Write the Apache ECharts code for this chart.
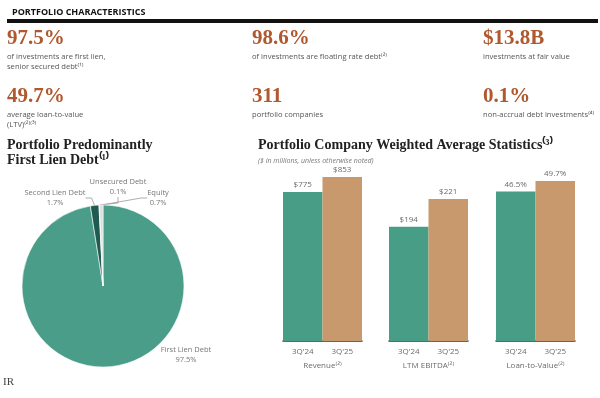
<!DOCTYPE html>
<html>
<head>
<meta charset="utf-8">
<script src="https://cdn.jsdelivr.net/npm/echarts@6/dist/echarts.min.js"></script>
<style>
  html, body { margin: 0; padding: 0; background: #fff; }
  #chart { width: 600px; height: 398px; }
</style>
</head>
<body>
<div id="chart"></div>
<script>
  // headline stats (value + note), row by row
  var HEADLINE_VALUES = ['97.5%', '98.6%', '$13.8B', '49.7%', '311', '0.1%'];
  var HEADLINE_NOTES = [
    'of investments are first lien,\nsenior secured debt⁽¹⁾',
    'of investments are floating rate debt⁽²⁾',
    'investments at fair value',
    'average loan-to-value\n(LTV)⁽²⁾⁽³⁾',
    'portfolio companies',
    'non-accrual debt investments⁽⁴⁾'
  ];

  // pie: lien breakdown
  var PIE_NAMES = ['First Lien Debt', 'Second Lien Debt', 'Unsecured Debt', 'Equity'];
  var PIE_VALUES = [97.5, 1.7, 0.1, 0.7];

  // bars: weighted average stats
  var PERIODS = ["3Q'24", "3Q'25"];
  var REVENUE = [775, 853];
  var EBITDA = [194, 221];
  var LTV = [46.5, 49.7];
  var METRIC_NAMES = ['Revenue⁽²⁾', 'LTM EBITDA⁽²⁾', 'Loan-to-Value⁽²⁾'];

  var RUST = '#b0582e'
    , TEAL = '#479d86'
    , TAN = '#c8996d'
    , GREY = '#6b6b6b';

  var chart = echarts.init(document.getElementById('chart'));

  var colLeft = [7, 252, 483]
    , rowTop = [28, 86];

  var titles = [{
    text: 'PORTFOLIO CHARACTERISTICS',
    left: 7, top: 3,
    textStyle: { fontFamily: 'Open Sans', fontWeight: 'bold', fontSize: 9, color: '#111' }
  }];

  HEADLINE_VALUES.forEach(function (v, i) {
    titles.push({
      text: v,
      subtext: HEADLINE_NOTES[i],
      left: colLeft[i % 3],
      top: rowTop[Math.floor(i / 3)],
      padding: 0,
      itemGap: 3,
      textStyle: { fontFamily: 'Liberation Serif', fontWeight: 'bold', fontSize: 21, color: RUST },
      subtextStyle: { fontFamily: 'Open Sans', fontSize: 7.6, color: '#555', lineHeight: 10 }
    });
  });

  titles.push({
    text: 'Portfolio Predominantly\nFirst Lien Debt⁽¹⁾',
    left: 7, top: 138, padding: 0,
    textStyle: { fontFamily: 'Liberation Serif', fontWeight: 'bold', fontSize: 14, lineHeight: 15, color: '#222' }
  });
  titles.push({
    text: 'Portfolio Company Weighted Average Statistics⁽³⁾',
    subtext: '($ in millions, unless otherwise noted)',
    left: 258, top: 138, padding: 0, itemGap: 5,
    textStyle: { fontFamily: 'Liberation Serif', fontWeight: 'bold', fontSize: 14, color: '#222' },
    subtextStyle: { fontFamily: 'Open Sans', fontStyle: 'italic', fontSize: 7, color: '#777' }
  });

  // where the pie labels sit
  var PIE_LABEL_POS = [
    { x: 186, y: 345 },
    { x: 55, y: 188 },
    { x: 118, y: 177 },
    { x: 158, y: 188 }
  ];

  var barSets = [REVENUE, EBITDA, LTV]
    , barLeft = [283, 389, 496]
    , barMin = [0, 83, 0]
    , barMax = [915, 254, 54.7]
    , grids = [], xAxes = [], yAxes = [], barSeries = [];

  barSets.forEach(function (vals, i) {
    grids.push({ left: barLeft[i], width: 79, top: 165, bottom: 57 });
    xAxes.push({
      type: 'category', gridIndex: i, data: PERIODS,
      axisLine: { lineStyle: { color: '#333', width: 1.5 } },
      axisTick: { show: false },
      axisLabel: { color: GREY, fontSize: 8, margin: 7, fontFamily: 'Open Sans' },
      name: METRIC_NAMES[i], nameLocation: 'middle', nameGap: 21,
      nameTextStyle: { color: GREY, fontSize: 8, fontFamily: 'Open Sans' }
    });
    yAxes.push({ type: 'value', gridIndex: i, min: barMin[i], max: barMax[i], show: false });
    barSeries.push({
      type: 'bar', xAxisIndex: i, yAxisIndex: i,
      data: vals,
      barCategoryGap: '0%',
      itemStyle: { color: function (p) { return p.dataIndex === 0 ? TEAL : TAN; } },
      label: {
        show: true, position: 'top', distance: 3,
        color: GREY, fontSize: 8, fontFamily: 'Open Sans',
        formatter: function (p) { return i === 2 ? p.value.toFixed(1) + '%' : '$' + p.value; }
      }
    });
  });

  chart.setOption({
    animation: false,
    title: titles,
    graphic: [
      { type: 'rect', shape: { x: 7, y: 19, width: 591, height: 4 }, style: { fill: '#111' } },
      { type: 'text', left: 3, top: 377, style: { text: 'IR', font: '11px Liberation Serif', fill: '#444' } }
    ],
    grid: grids,
    xAxis: xAxes,
    yAxis: yAxes,
    series: [{
      type: 'pie',
      center: [103, 286],
      radius: 81,
      startAngle: 90,
      clockwise: true,
      avoidLabelOverlap: false,
      minShowLabelAngle: 0,
      data: PIE_NAMES.map(function (n, i) {
        return { name: n, value: PIE_VALUES[i], labelLine: { show: i > 0 } };
      }),
      color: ['#4a9e89', '#1f5b51', '#8fc2b2', '#dcdedd'],
      itemStyle: { borderColor: '#fff', borderWidth: 0.6 },
      label: {
        show: true,
        formatter: function (p) { return p.name + '\n' + p.value + '%'; },
        color: '#777', fontSize: 7.5, lineHeight: 10, fontFamily: 'Open Sans', align: 'center'
      },
      labelLine: { show: true, length: 8, length2: 6, lineStyle: { color: '#999', width: 0.8 } },
      labelLayout: function (p) {
        var pos = PIE_LABEL_POS[p.dataIndex];
        return { x: pos.x, y: pos.y, align: 'center', verticalAlign: 'top' };
      }
    }].concat(barSeries)
  });
</script>
</body>
</html>
